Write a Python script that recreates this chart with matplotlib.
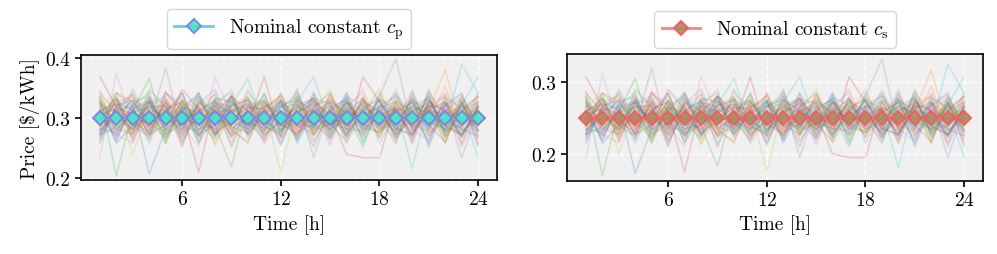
import numpy as np
import matplotlib
matplotlib.use("Agg")
import matplotlib.pyplot as plt

plt.rcParams['font.family'] = 'serif'
plt.rcParams['font.serif'] = ['cmr10', 'DejaVu Serif']
plt.rcParams['mathtext.fontset'] = 'cm'
plt.rcParams['axes.formatter.use_mathtext'] = True
plt.rcParams['axes.unicode_minus'] = False
plt.rcParams['font.size'] = 14

hours = list(range(1, 25))
c_p_nominal = 0.30
c_s_nominal = 0.25
x_ticks = [6, 12, 18, 24]

# scenario deviations from nominal price, in percent, per hour
dev_pct = [
    [5, -12, 8, -31, -6, 10, -14, 2, 12, -9, 4, -15, 7, 11, -3, -13, 6, 1, -8, 14, -5, 9, -11, 6],
    [-3, 14, 9, -7, 15, -2, 6, -15, 3, 12, -9, -1, -6, 11, 8, -14, 3, 16, -5, -10, 8, 13, -2, 7],
    [12, -32, 4, 22, -9, 5, -13, 7, -4, 11, 1, -10, 14, -6, 9, 3, -16, 7, 12, -3, 6, -14, 9, -7],
    [23, 6, -11, 9, -4, 14, -8, 11, -16, 5, 10, -4, 8, -13, 2, -20, -22, -22, 9, -6, 14, -10, 4, 12],
    [-9, 4, 13, -5, 28, -10, 1, 14, -7, -13, 6, 12, -4, 7, -15, 9, 4, -6, 13, 2, -12, 8, -16, 4],
    [14, 3, -7, 11, -4, 16, 5, -9, 13, -2, -12, 7, 10, -6, 13, -4, 9, 1, -14, 10, 4, -7, 12, -4],
    [-22, 25, -6, 9, 12, -4, -16, 23, 2, -9, 7, -13, 4, 11, -7, 14, -6, 10, -4, 16, -9, 6, 13, -12],
    [4, -9, 16, -2, -11, 7, 12, -6, 9, 4, -14, 1, -10, 6, 14, -7, 11, -4, 7, -12, 10, -2, 5, 12],
    [-6, 10, -20, 7, 4, -12, 9, 4, -10, 14, 6, -30, 8, -4, 11, 2, -9, 13, -6, 7, -4, 11, -7, 1],
    [8, -4, 7, 14, -10, 6, -2, -12, 7, 22, -6, 9, -14, 4, -9, 12, 7, -11, 6, -28, 11, -6, 30, 14],
    [-12, 7, -4, -10, 9, -14, 4, 10, -6, 1, 13, -7, 4, -16, 6, 10, -4, 7, -11, 4, -14, 8, -6, -10],
    [6, -2, 11, 4, -14, 10, -7, 6, 16, -11, 4, 13, -8, 1, -6, 7, 14, -9, 4, 11, -3, 18, -10, 7],
    [-2, 12, -9, 16, 6, -7, 14, -4, -27, 8, -2, 6, 12, -9, 4, -11, 6, 10, -7, 3, 12, -9, 7, -4],
    [10, -7, 3, -12, 14, 4, -30, 9, 6, -4, 23, -11, 3, 9, -12, 6, -2, 11, 4, -9, 6, 12, -14, 8],
    [-10, 6, 14, -4, 7, -11, 8, 16, -4, 11, -7, 4, -12, 7, 10, -6, 12, -14, 3, 9, -10, 4, 11, -16],
    [3, 11, -6, 9, -12, 6, -10, 4, 12, -7, 9, -3, 16, -10, 4, 11, -7, 3, 14, -6, 7, -11, 4, 9],
    [15, -10, 4, -7, 11, -3, 14, -9, 6, 10, -13, 7, -4, 12, -9, 4, 16, -6, 10, -13, 14, 2, -7, 11],
    [-7, 3, 9, 12, -6, 10, -4, 7, -11, 4, 9, -6, 11, -22, 7, -9, 4, 12, 33, -7, 6, -4, 10, -3],
    [6, 14, -10, 3, 9, -6, 11, -14, 7, -4, 6, 12, -9, 4, 16, -7, 10, -4, -11, 14, -6, 9, -3, 6],
    [-11, 4, 7, -9, 3, 12, -6, 9, 14, -10, 4, -7, 9, 23, -4, 11, -14, 6, 9, -4, 12, -9, 7, 23],
    [9, -14, -4, 11, -7, 4, 14, -10, 3, 7, -4, 10, -13, 6, -3, 14, -9, 4, -6, 11, -16, 7, 14, -7],
    [-4, 9, 12, -11, 4, -9, 7, 13, -6, -14, 11, -4, 7, -10, 14, -3, 6, -11, 9, -7, 4, 27, -6, 12],
    [12, -6, 3, 9, -14, 7, -4, 11, 9, -6, 14, -9, 4, 11, -7, 9, -13, 7, 4, -10, 16, -4, -9, 6],
    [-9, 11, -13, 6, 7, -16, 10, -3, 12, 4, -7, 14, -6, 3, 9, -11, 23, 9, -10, 6, -4, -13, 9, -14],
    [4, -13, 9, -3, 14, 7, -11, 6, -9, 16, -4, -10, 12, -3, -11, 7, -4, 11, -7, 12, -6, 9, -22, 4],
    [-14, 7, 10, -6, 3, 14, -9, -4, 11, -7, 6, 10, -11, 14, -4, 3, 11, -7, 6, -14, 9, 4, -10, 7],
    [7, -9, -14, 12, -6, 4, 11, -7, -3, 9, -11, 6, 14, -7, 4, -10, 9, -3, 16, -6, -13, 14, 4, -9],
    [-6, 14, 6, -9, 11, -13, 4, 9, -10, 3, 7, -14, 6, 10, -11, 12, -6, 9, -3, 7, 11, -7, -4, 14],
    [11, -4, -9, 14, -11, 9, -3, -11, 7, 12, -10, 4, 9, -4, 12, -7, 3, -10, 11, -3, 6, -14, 12, -6],
    [-3, 10, 4, -14, 6, -9, 12, 3, -14, 7, 10, -6, -3, 14, -9, 6, -11, 14, -4, 9, -7, 11, 6, -22],
    [2, 5, -3, 7, -1, -4, 6, -8, 10, -2, -6, 8, -3, -5, 7, -9, 2, 6, -12, 4, 8, -3, -5, 9],
    [-5, -1, 4, -6, 8, 2, -3, 5, -7, 3, 9, -5, 2, -8, 4, 6, -10, 2, 5, -4, -7, 8, 3, -6],
    [7, 3, -6, 2, -9, -3, 8, 1, -5, -8, 4, 9, -2, 5, -6, -1, 8, -5, 3, 9, -2, -6, 7, 2],
    [-8, 6, 2, -4, 5, 9, -2, -6, 4, 8, -10, -1, 6, 3, -7, 9, -3, -8, 6, 1, 10, -5, -9, 3],
    [3, -6, -9, 5, 1, -7, 9, 4, -2, -6, 3, 7, -8, -3, 10, 2, -6, 4, -9, 7, 2, -4, 8, -10],
    [-1, 8, 5, -9, -4, 6, 3, -10, 8, 2, -5, -8, 10, 4, -2, -6, 7, -1, 4, -8, 5, 9, -3, 1],
    [9, -3, 7, 3, -6, -8, 5, 2, -9, 6, 1, -4, -7, 8, 2, -3, -9, 6, 2, -5, -1, 7, -8, 5],
    [-4, 2, -7, 8, 10, -2, -9, 7, 3, -5, 8, 2, -4, -9, 5, 8, 1, -6, -3, 10, -8, -2, 6, -7],
    [6, -7, 1, -3, -8, 10, 4, -2, -6, 9, -3, -9, 5, 2, -10, 3, 8, 5, -7, -2, 7, -10, 2, 8],
    [-7, 1, 10, -2, 5, -5, -7, 9, 1, -3, -9, 6, 8, -6, 3, -10, 5, -2, 10, 3, -6, 4, -7, -1],
    [1, -10, 5, 9, -3, 3, -6, -4, 7, 10, -2, -7, 3, 8, -5, 5, -2, 10, -6, -9, 4, 2, -10, 6],
    [8, 4, -8, 1, 6, -9, 2, 7, -10, -4, 7, 3, -10, 4, 6, -8, 4, -3, 8, 5, -10, 1, 7, -3],
    [-9, -5, 3, 6, -2, 8, -10, 3, 5, -1, -8, 10, 1, -7, -3, 9, -5, -8, 1, 6, 3, -7, 9, -8],
    [4, 8, -2, -8, 9, -6, 7, -9, -1, 6, 5, -3, -9, 10, 1, -4, 10, 3, -9, -1, 7, 5, -2, 4],
    [-6, -8, 6, 10, -7, 1, -4, 8, 4, -9, 2, 9, -5, -1, 8, -6, -7, 2, 5, -10, 9, -8, 4, -4],
]

panels = [
    dict(nominal=c_p_nominal, label=r'Nominal constant $c_\mathrm{p}$',
         line='#5fc6dc', face='#45e6c8', edge='#7f7fdc',
         pos=[0.0812, 0.2902, 0.4173, 0.4902], ylim=(0.197, 0.405),
         yticks=[0.2, 0.3, 0.4], ylabel=r'Price [\$/kWh]'),
    dict(nominal=c_s_nominal, label=r'Nominal constant $c_\mathrm{s}$',
         line='#f27a72', face='#ab8a5e', edge='#f55a5f',
         pos=[0.5687, 0.2882, 0.4173, 0.4980], ylim=(0.1628, 0.340),
         yticks=[0.2, 0.3], ylabel=None),
]

fig = plt.figure(figsize=(9.97, 2.55), dpi=100)
tab10 = plt.get_cmap('tab10').colors

for p in panels:
    ax = fig.add_axes(p['pos'])
    ax.set_facecolor('#f0f0f0')
    ax.grid(True, color='white', linestyle='--', linewidth=1.0)
    ax.set_axisbelow(True)
    nom = p['nominal']
    for i, row in enumerate(dev_pct):
        vals = nom * (1 + np.array(row) / 100.0)
        ax.plot(hours, vals, color=tab10[i % 10], alpha=0.2, lw=1.2)
    ax.plot(hours, [nom] * len(hours), color=p['line'], lw=2.0, alpha=0.9,
            marker='D', markersize=7.5, markerfacecolor=p['face'],
            markeredgecolor=p['edge'], markeredgewidth=1.5, label=p['label'])
    ax.set_xlim(-0.15, 25.15)
    ax.set_ylim(*p['ylim'])
    ax.set_xticks(x_ticks)
    ax.set_yticks(p['yticks'])
    ax.set_yticklabels([f'{t:.1f}' for t in p['yticks']])
    ax.set_xlabel('Time [h]', fontsize=14)
    if p['ylabel']:
        ax.set_ylabel(p['ylabel'], fontsize=14)
    for s in ax.spines.values():
        s.set_color('black')
        s.set_linewidth(1.2)
    ax.tick_params(direction='out', length=4, width=1.2, color='black',
                   labelsize=14)
    ax.legend(loc='lower center', bbox_to_anchor=(0.5, 1.0), frameon=True,
              fancybox=True, edgecolor='#cccccc', handlelength=2.0,
              fontsize=14, borderaxespad=0.3)

fig.savefig('out.png', dpi=100)
